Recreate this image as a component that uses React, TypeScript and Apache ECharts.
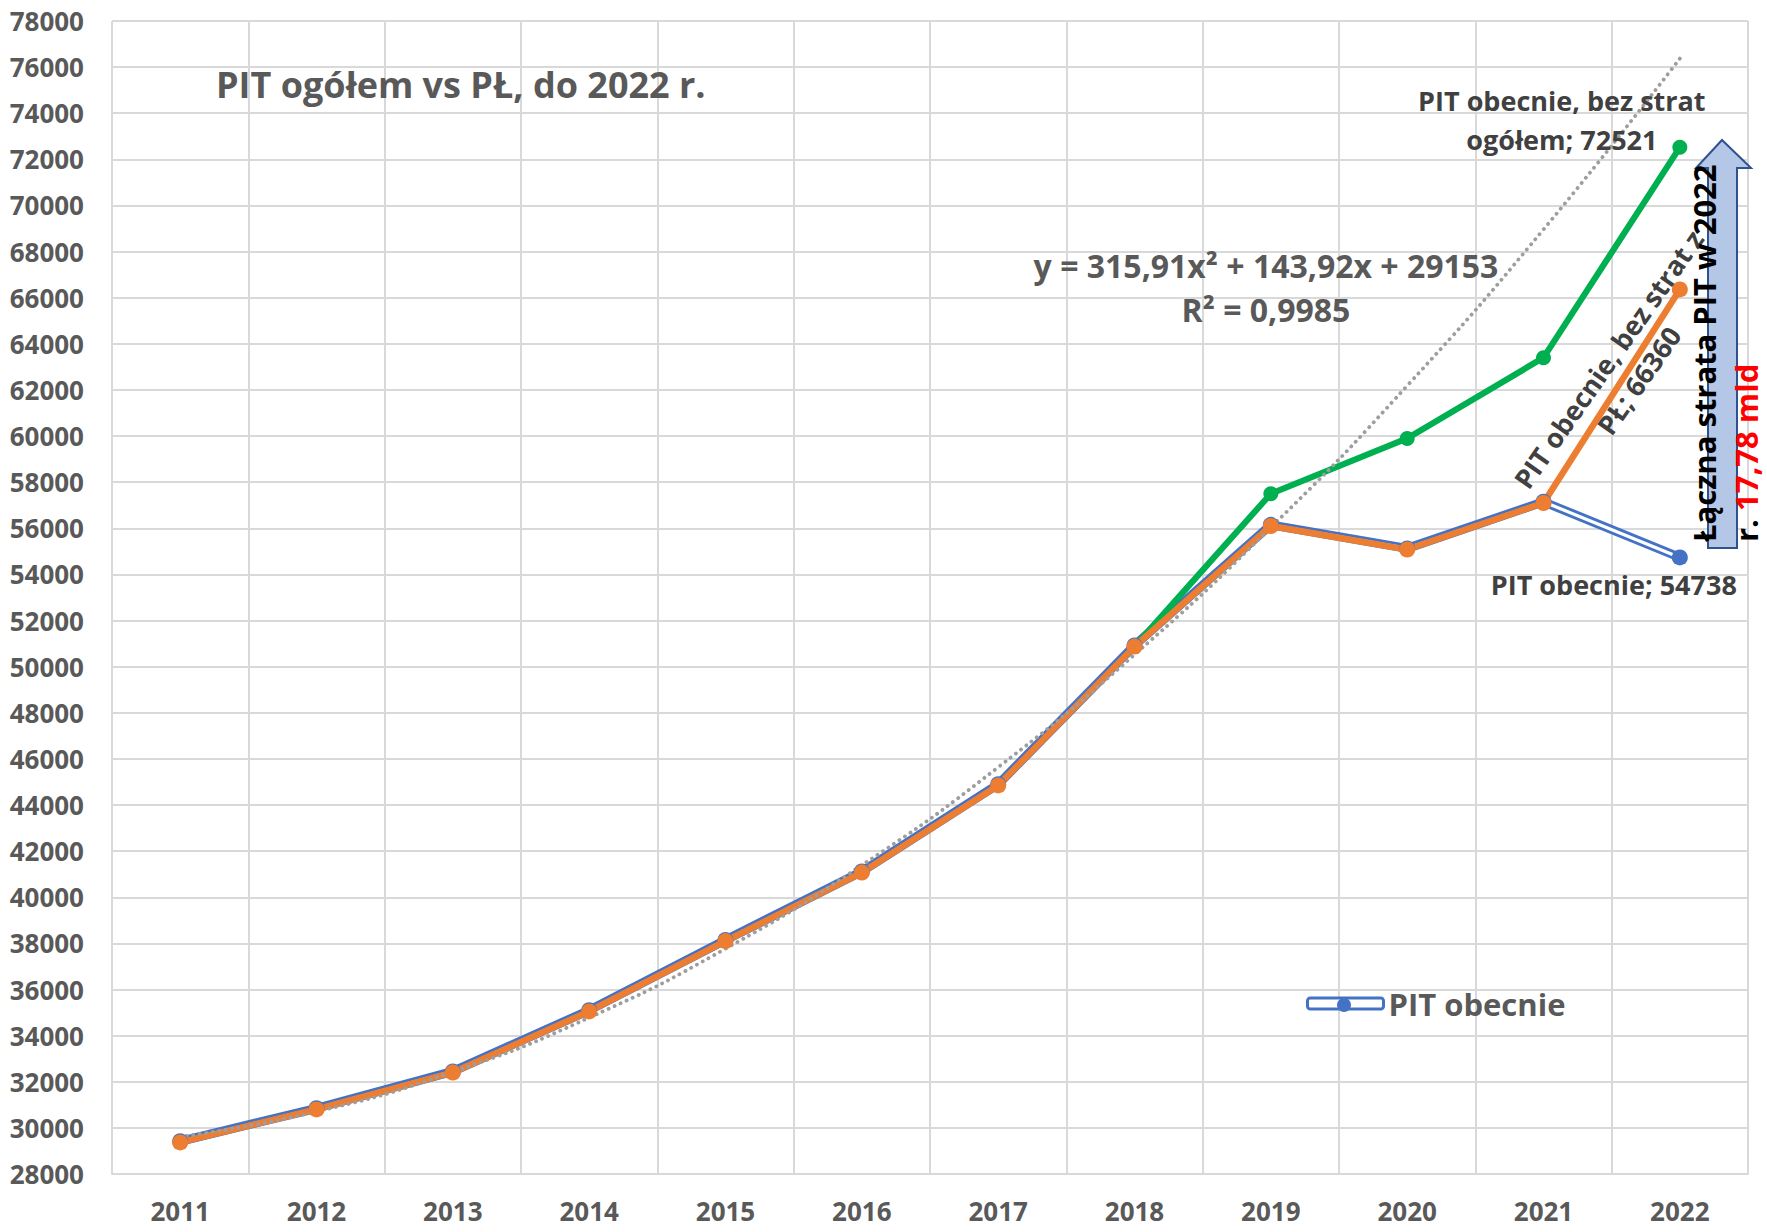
import React, { useEffect, useRef } from "react";
import * as echarts from "echarts";

// ---- data ----
const years = ["2011", "2012", "2013", "2014", "2015", "2016", "2017", "2018", "2019", "2020", "2021", "2022"];
const pitObecnie = [29420, 30850, 32450, 35100, 38150, 41120, 44900, 50920, 56150, 55130, 57150, 54738];
const pitBezStratPL = [29370, 30800, 32400, 35050, 38100, 41070, 44850, 50870, 56100, 55080, 57100, 66360];
const pitBezStratOgolem = [null, null, null, null, null, null, null, 50870, 57500, 59900, 63400, 72521];
const trendPoly = [29613, 30705, 32428, 34783, 37770, 41389, 45640, 50523, 56037, 62183, 68961, 76371];

const yMin = 28000;
const yMax = 78000;
const yStep = 2000;

const nameBlue = "PIT obecnie";
const nameOrange = "PIT obecnie, bez strat z PŁ";
const nameGreen = "PIT obecnie, bez strat ogółem";
const nameTrend = "Wielom. (PIT obecnie)";

const titleText = "PIT ogółem vs PŁ, do 2022 r.";
const eqLine1 = "y = 315,91x² + 143,92x + 29153";
const eqLine2 = "R² = 0,9985";
const lossLine1 = "Łączna strata PIT w 2022";
const lossLine2a = "r. ";
const lossLine2b = "17,78 mld";

const FONT = "'Open Sans', 'Noto Sans', sans-serif";
const BLUE = "#4472C4";
const ORANGE = "#ED7D31";
const GREEN = "#00B050";
const GRID = "#D9D9D9";
const AXIS_TEXT = "#595959";
const LABEL_TEXT = "#404040";

const lastIdx = years.length - 1;

function withLastLabel(values: (number | null)[], label: any) {
  return values.map((v, i) => (i === lastIdx ? { value: v, label } : v));
}

const baseLabel = {
  show: true,
  position: "inside",
  fontSize: 27,
  fontWeight: "bold",
  color: LABEL_TEXT,
  fontFamily: FONT,
  lineHeight: 38,
  align: "center",
  verticalAlign: "middle",
};

export default function App() {
  const ref = useRef<HTMLDivElement>(null);

  useEffect(() => {
    document.body.style.margin = "0";
    if (!ref.current) return;
    const chart = echarts.init(ref.current, undefined, { renderer: "svg" });

    const option: any = {
      animation: false,
      backgroundColor: "#ffffff",
      textStyle: { fontFamily: FONT },
      title: {
        text: titleText,
        left: 216,
        top: 66,
        padding: 0,
        textStyle: { fontSize: 36, fontWeight: "bold", color: AXIS_TEXT, fontFamily: FONT },
      },
      legend: {
        data: [
          {
            name: nameBlue,
            icon: "roundRect",
            itemStyle: { color: "#ffffff", borderColor: BLUE, borderWidth: 3 },
          },
        ],
        left: 1301,
        top: 983,
        itemWidth: 76,
        itemHeight: 11,
        selectedMode: false,
        textStyle: { fontSize: 31, fontWeight: "bold", color: AXIS_TEXT, fontFamily: FONT },
      },
      grid: { left: 112, right: 19, top: 21, bottom: 58, containLabel: false, outerBoundsMode: "none" },
      xAxis: {
        type: "category",
        data: years,
        boundaryGap: true,
        axisTick: { show: false },
        axisLine: { lineStyle: { color: GRID, width: 2 } },
        splitLine: { show: true, interval: 0, lineStyle: { color: GRID, width: 2 } },
        axisLabel: { interval: 0, fontSize: 26, fontWeight: "bold", color: AXIS_TEXT, margin: 24, fontFamily: FONT },
      },
      yAxis: {
        type: "value",
        min: yMin,
        max: yMax,
        interval: yStep,
        axisLine: { show: false },
        axisTick: { show: false },
        splitLine: { lineStyle: { color: GRID, width: 2 } },
        axisLabel: {
          fontSize: 26,
          fontWeight: "bold",
          color: AXIS_TEXT,
          margin: 28,
          fontFamily: FONT,
          formatter: (v: number) => String(v),
        },
      },
      series: [
        {
          name: nameBlue,
          type: "line",
          data: pitObecnie,
          symbol: "none",
          lineStyle: { color: BLUE, width: 9 },
          itemStyle: { color: BLUE },
          silent: true,
        },
        {
          name: nameBlue + " (środek)",
          type: "line",
          data: pitObecnie,
          symbol: "none",
          lineStyle: { color: "#ffffff", width: 3.2 },
          silent: true,
        },
        {
          name: nameBlue,
          type: "line",
          data: withLastLabel(pitObecnie, {
            ...baseLabel,
            formatter: (p: any) => `${nameBlue}; ${p.value}`,
            offset: [-66, 27],
          }),
          symbol: "circle",
          symbolSize: 16,
          lineStyle: { width: 0, opacity: 0 },
          itemStyle: { color: BLUE },
          silent: true,
        },
        {
          name: nameGreen,
          type: "line",
          data: withLastLabel(pitBezStratOgolem, {
            ...baseLabel,
            lineHeight: 39,
            formatter: (p: any) => `PIT obecnie, bez strat\nogółem; ${p.value}`,
            offset: [-118, -27],
          }),
          symbol: "circle",
          symbolSize: 15,
          lineStyle: { color: GREEN, width: 6.2 },
          itemStyle: { color: GREEN },
          silent: true,
        },
        {
          name: nameOrange,
          type: "line",
          data: withLastLabel(pitBezStratPL, {
            ...baseLabel,
            lineHeight: 37,
            rotate: 55,
            formatter: (p: any) => `PIT obecnie, bez strat z\nPŁ; ${p.value}`,
            offset: [-98, 0],
          }),
          symbol: "circle",
          symbolSize: 16,
          lineStyle: { color: ORANGE, width: 6.4 },
          itemStyle: { color: ORANGE },
          silent: true,
        },
        {
          name: nameTrend,
          type: "line",
          data: trendPoly,
          smooth: true,
          symbol: "none",
          lineStyle: { color: "#9E9E9E", width: 3.8, type: [0.1, 6.5], cap: "round" },
          silent: true,
        },
      ],
      graphic: [
        {
          type: "polygon",
          z: 5,
          shape: {
            points: [
              [1708, 548],
              [1708, 168],
              [1696, 168],
              [1722, 140],
              [1751, 168],
              [1737, 168],
              [1737, 548],
            ],
          },
          style: { fill: "#B4C7E7", stroke: "#2F528F", lineWidth: 2 },
        },
        {
          type: "text",
          z: 6,
          x: 1683,
          y: 542,
          rotation: Math.PI / 2,
          style: {
            text: `${lossLine1}\n${lossLine2a}{r|${lossLine2b}}`,
            fontSize: 31,
            fontWeight: "bold",
            fontFamily: FONT,
            fill: "#000000",
            align: "left",
            verticalAlign: "top",
            lineHeight: 42,
            rich: {
              r: { fontSize: 31, fontWeight: "bold", fontFamily: FONT, fill: "#FF0000", lineHeight: 42 },
            },
          },
        },
        {
          type: "text",
          z: 6,
          x: 1266,
          y: 265,
          style: {
            text: eqLine1,
            fontSize: 32,
            fontWeight: "bold",
            fontFamily: FONT,
            fill: AXIS_TEXT,
            align: "center",
            verticalAlign: "middle",
          },
        },
        {
          type: "text",
          z: 6,
          x: 1266,
          y: 309,
          style: {
            text: eqLine2,
            fontSize: 32,
            fontWeight: "bold",
            fontFamily: FONT,
            fill: AXIS_TEXT,
            align: "center",
            verticalAlign: "middle",
          },
        },
        {
          type: "circle",
          z: 6,
          shape: { cx: 1344, cy: 1005, r: 7 },
          style: { fill: BLUE },
        },
      ],
    };

    chart.setOption(option);
    return () => chart.dispose();
  }, []);

  return <div ref={ref} style={{ width: 1767, height: 1232 }} />;
}
